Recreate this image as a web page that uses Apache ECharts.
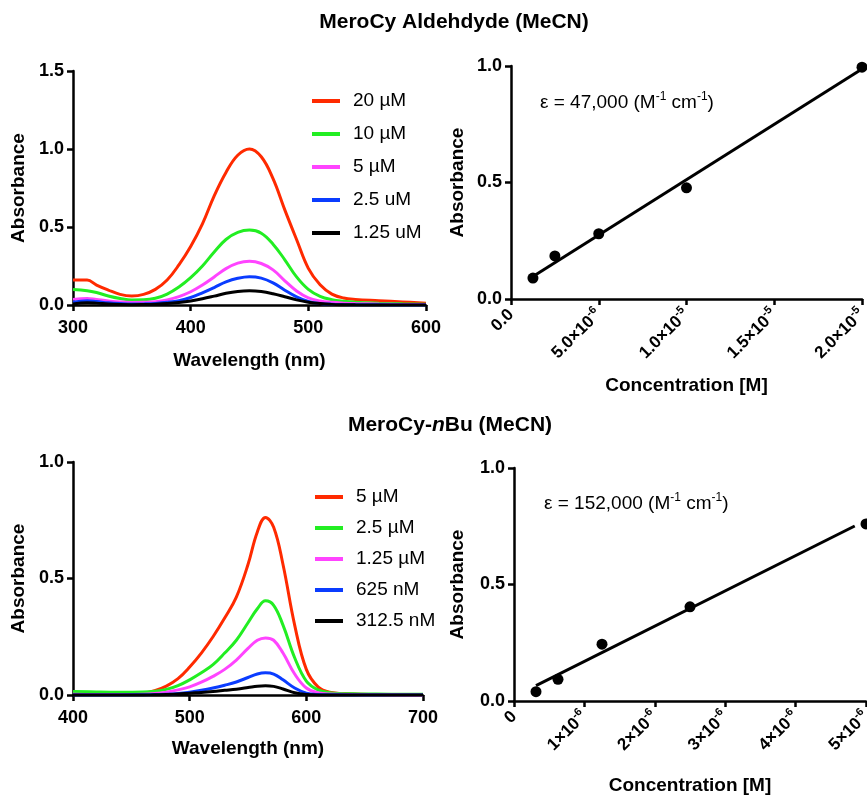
<!DOCTYPE html>
<html>
<head>
<meta charset="utf-8">
<script src="https://cdn.jsdelivr.net/npm/echarts@6/dist/echarts.min.js"></script>
<style>
  html, body { margin: 0; padding: 0; background: #fff; }
  #chart { width: 867px; height: 795px; }
</style>
</head>
<body>
<div id="chart"></div>
<script>
// 字体
const FONT = '"Liberation Sans", Arial, sans-serif';

// ---- 上排：MeroCy Aldehdyde 光谱 ----
const wlA = [300, 312, 320, 330, 340, 350, 360, 370, 380, 390, 400, 410, 420, 430, 440, 450, 460, 470, 480, 490, 500, 510, 520, 530, 540, 560, 580, 600];
const absA20 = [0.16, 0.16, 0.128, 0.096, 0.068, 0.058, 0.068, 0.10, 0.16, 0.257, 0.375, 0.52, 0.70, 0.85, 0.96, 1.0, 0.95, 0.81, 0.61, 0.42, 0.235, 0.13, 0.07, 0.045, 0.036, 0.028, 0.02, 0.012];
const absA10 = [0.10, 0.092, 0.08, 0.058, 0.042, 0.032, 0.033, 0.043, 0.07, 0.115, 0.175, 0.25, 0.34, 0.42, 0.465, 0.48, 0.46, 0.39, 0.29, 0.18, 0.10, 0.055, 0.034, 0.024, 0.018, 0.012, 0.008, 0.005];
const absA5 = [0.036, 0.042, 0.035, 0.026, 0.019, 0.016, 0.017, 0.021, 0.033, 0.054, 0.085, 0.128, 0.18, 0.233, 0.268, 0.28, 0.266, 0.225, 0.155, 0.09, 0.046, 0.026, 0.017, 0.012, 0.009, 0.006, 0.004, 0.003];
const absA25 = [0.017, 0.027, 0.022, 0.014, 0.009, 0.006, 0.007, 0.01, 0.017, 0.028, 0.048, 0.078, 0.112, 0.148, 0.171, 0.181, 0.172, 0.142, 0.095, 0.052, 0.022, 0.01, 0.005, 0.003, 0.002, 0.001, 0, 0];
const absA125 = [0.007, 0.015, 0.012, 0.006, 0.003, 0.002, 0.003, 0.005, 0.009, 0.016, 0.026, 0.04, 0.057, 0.075, 0.087, 0.091, 0.086, 0.072, 0.053, 0.033, 0.018, 0.009, 0.004, 0.002, 0.001, 0, 0, 0];
const legendA = ['20 µM', '10 µM', '5 µM', '2.5 uM', '1.25 uM'];

// ---- 上排：标准曲线 ----
const concA = [1.25e-6, 2.5e-6, 5e-6, 1e-5, 2e-5];
const pointsA = [0.09, 0.185, 0.28, 0.477, 0.995];
const fitAx = [1.25e-6, 2e-5];
const fitAy = [0.097, 0.987];
const ticksA = [['0.0', ''], ['5.0×10', '-6'], ['1.0×10', '-5'], ['1.5×10', '-5'], ['2.0×10', '-5']];

// ---- 下排：MeroCy-nBu 光谱 ----
const wlB = [400, 420, 440, 460, 470, 480, 490, 500, 510, 520, 530, 540, 550, 558, 565, 572, 580, 590, 600, 610, 620, 640, 660, 700];
const absB5 = [0.005, 0.003, 0.003, 0.008, 0.018, 0.038, 0.07, 0.12, 0.18, 0.25, 0.33, 0.42, 0.56, 0.70, 0.762, 0.72, 0.56, 0.30, 0.11, 0.035, 0.012, 0.004, 0.002, 0];
const absB25 = [0.015, 0.013, 0.012, 0.013, 0.016, 0.024, 0.04, 0.065, 0.095, 0.13, 0.18, 0.235, 0.31, 0.37, 0.404, 0.385, 0.30, 0.16, 0.06, 0.022, 0.01, 0.005, 0.004, 0.003];
const absB125 = [0.003, 0.002, 0.002, 0.003, 0.006, 0.012, 0.022, 0.035, 0.055, 0.08, 0.11, 0.15, 0.20, 0.235, 0.245, 0.235, 0.18, 0.09, 0.03, 0.01, 0.004, 0.002, 0.001, 0];
const absB625 = [0, 0, 0, 0.001, 0.002, 0.003, 0.006, 0.012, 0.02, 0.03, 0.042, 0.056, 0.075, 0.09, 0.095, 0.09, 0.065, 0.03, 0.008, 0.002, 0.001, 0, 0, 0];
const absB3125 = [0, 0, 0, 0, 0.001, 0.002, 0.004, 0.008, 0.011, 0.015, 0.02, 0.025, 0.032, 0.038, 0.04, 0.037, 0.026, 0.01, 0.002, 0, 0, 0, 0, 0];
const legendB = ['5 µM', '2.5 µM', '1.25 µM', '625 nM', '312.5 nM'];

// ---- 下排：标准曲线 ----
const concB = [3.125e-7, 6.25e-7, 1.25e-6, 2.5e-6, 5e-6];
const pointsB = [0.04, 0.093, 0.244, 0.404, 0.76];
const fitBx = [3.125e-7, 4.84e-6];
const fitBy = [0.066, 0.751];
const ticksB = [['0', ''], ['1×10', '-6'], ['2×10', '-6'], ['3×10', '-6'], ['4×10', '-6'], ['5×10', '-6']];

const COLORS = ['#ff2a00', '#22ee22', '#ff44ff', '#0a3cff', '#000000'];

const zip = (xs, ys) => xs.map((x, i) => [x, ys[i]]);

const axisLine = { show: true, lineStyle: { color: '#000', width: 2.5 } };
const axisTick = { show: true, inside: false, length: 6, lineStyle: { color: '#000', width: 2.5 } };
const tickFont = { color: '#000', fontFamily: FONT, fontWeight: 'bold', fontSize: 18, margin: 14 };
const nameFont = { color: '#000', fontFamily: FONT, fontWeight: 'bold', fontSize: 19 };

const supRich = {
  b: { color: '#000', fontFamily: FONT, fontWeight: 'bold', fontSize: 17, lineHeight: 22 },
  s: { color: '#000', fontFamily: FONT, fontWeight: 'bold', fontSize: 11, lineHeight: 22, verticalAlign: 'top' }
};

function supLabel(table, step) {
  return (v) => {
    const [b, e] = table[Math.round(v / step)] || ['', ''];
    return e ? `{b|${b}}{s|${e}}` : `{b|${b}}`;
  };
}

function yAxisCfg(gridIndex, max, gap) {
  return {
    type: 'value', gridIndex, min: 0, max, interval: 0.5,
    splitLine: { show: false }, axisLine, axisTick,
    axisLabel: { ...tickFont, margin: 9, formatter: (v) => v.toFixed(1) },
    name: 'Absorbance', nameLocation: 'middle', nameGap: gap, nameTextStyle: nameFont
  };
}

function spectrum(prefix, names, xs, ys, axisIdx) {
  return ys.map((arr, i) => ({
    name: prefix + names[i],
    type: 'line',
    xAxisIndex: axisIdx, yAxisIndex: axisIdx,
    data: zip(xs, arr),
    smooth: 0.4,
    showSymbol: false,
    color: COLORS[i],
    lineStyle: { width: 3, color: COLORS[i] },
    z: 2 + i
  }));
}

const legendCommon = {
  orient: 'vertical',
  icon: 'rect',
  itemWidth: 28,
  itemHeight: 4,
  selectedMode: false,
  textStyle: { color: '#000', fontFamily: FONT, fontSize: 19, lineHeight: 20, padding: [0, 0, 0, 8] },
  formatter: (n) => n.slice(2)
};

const chart = echarts.init(document.getElementById('chart'), null, { renderer: 'canvas' });

const option = {
  backgroundColor: '#fff',
  animation: false,
  grid: [
    { left: 73, top: 71, width: 353, height: 234, outerBoundsMode: 'none' },
    { left: 511, top: 66, width: 351, height: 233, outerBoundsMode: 'none' },
    { left: 73, top: 462, width: 350, height: 233, outerBoundsMode: 'none' },
    { left: 514, top: 468, width: 352, height: 233, outerBoundsMode: 'none' }
  ],
  xAxis: [
    {
      type: 'value', gridIndex: 0, min: 300, max: 600, interval: 100,
      splitLine: { show: false }, axisLine, axisTick, axisLabel: tickFont,
      name: 'Wavelength (nm)', nameLocation: 'middle', nameGap: 46, nameTextStyle: nameFont
    },
    {
      type: 'value', gridIndex: 1, min: 0, max: 2e-5, interval: 5e-6,
      splitLine: { show: false }, axisLine, axisTick,
      axisLabel: { rotate: 45, margin: 13, formatter: supLabel(ticksA, 5e-6), rich: supRich },
      name: 'Concentration [M]', nameLocation: 'middle', nameGap: 77, nameTextStyle: nameFont
    },
    {
      type: 'value', gridIndex: 2, min: 400, max: 700, interval: 100,
      splitLine: { show: false }, axisLine, axisTick, axisLabel: tickFont,
      name: 'Wavelength (nm)', nameLocation: 'middle', nameGap: 44, nameTextStyle: nameFont
    },
    {
      type: 'value', gridIndex: 3, min: 0, max: 5e-6, interval: 1e-6,
      splitLine: { show: false }, axisLine, axisTick,
      axisLabel: { rotate: 45, margin: 13, formatter: supLabel(ticksB, 1e-6), rich: supRich },
      name: 'Concentration [M]', nameLocation: 'middle', nameGap: 75, nameTextStyle: nameFont
    }
  ],
  yAxis: [
    yAxisCfg(0, 1.5, 45),
    yAxisCfg(1, 1.0, 44),
    yAxisCfg(2, 1.0, 45),
    yAxisCfg(3, 1.0, 47)
  ],
  legend: [
    { ...legendCommon, left: 307, top: 86, itemGap: 13, data: legendA.map((n) => 'A:' + n) },
    { ...legendCommon, left: 310, top: 482, itemGap: 11, data: legendB.map((n) => 'B:' + n) }
  ],
  series: [
    ...spectrum('A:', legendA, wlA, [absA20, absA10, absA5, absA25, absA125], 0),
    {
      name: 'fitA', type: 'line', xAxisIndex: 1, yAxisIndex: 1,
      data: zip(fitAx, fitAy), showSymbol: false, color: '#000',
      lineStyle: { width: 3, color: '#000' }
    },
    {
      name: 'ptsA', type: 'scatter', xAxisIndex: 1, yAxisIndex: 1,
      data: zip(concA, pointsA), symbolSize: 11, clip: false,
      itemStyle: { color: '#000', opacity: 1 }
    },
    ...spectrum('B:', legendB, wlB, [absB5, absB25, absB125, absB625, absB3125], 2),
    {
      name: 'fitB', type: 'line', xAxisIndex: 3, yAxisIndex: 3,
      data: zip(fitBx, fitBy), showSymbol: false, color: '#000',
      lineStyle: { width: 3, color: '#000' }
    },
    {
      name: 'ptsB', type: 'scatter', xAxisIndex: 3, yAxisIndex: 3,
      data: zip(concB, pointsB), symbolSize: 11, clip: false,
      itemStyle: { color: '#000', opacity: 1 }
    }
  ],
  graphic: [
    {
      type: 'text', x: 454, y: 22,
      style: {
        text: 'MeroCy Aldehdyde (MeCN)', fill: '#000',
        font: `bold 21px ${FONT}`, align: 'center', verticalAlign: 'middle'
      }
    },
    {
      type: 'text', x: 450, y: 425,
      style: {
        text: '{b|MeroCy-}{i|n}{b|Bu (MeCN)}', align: 'center', verticalAlign: 'middle',
        rich: {
          b: { fill: '#000', fontFamily: FONT, fontWeight: 'bold', fontSize: 21 },
          i: { fill: '#000', fontFamily: FONT, fontWeight: 'bold', fontStyle: 'italic', fontSize: 21 }
        }
      }
    },
    {
      type: 'text', x: 540, y: 103,
      style: {
        text: '{t|ε = 47,000 (M}{s|-1}{t| cm}{s|-1}{t|)}', align: 'left', verticalAlign: 'middle',
        rich: {
          t: { fill: '#000', fontFamily: FONT, fontSize: 19, lineHeight: 24 },
          s: { fill: '#000', fontFamily: FONT, fontSize: 12, lineHeight: 24, verticalAlign: 'top' }
        }
      }
    },
    {
      type: 'text', x: 544, y: 504,
      style: {
        text: '{t|ε = 152,000 (M}{s|-1}{t| cm}{s|-1}{t|)}', align: 'left', verticalAlign: 'middle',
        rich: {
          t: { fill: '#000', fontFamily: FONT, fontSize: 19, lineHeight: 24 },
          s: { fill: '#000', fontFamily: FONT, fontSize: 12, lineHeight: 24, verticalAlign: 'top' }
        }
      }
    }
  ]
};

chart.setOption(option);
</script>
</body>
</html>
